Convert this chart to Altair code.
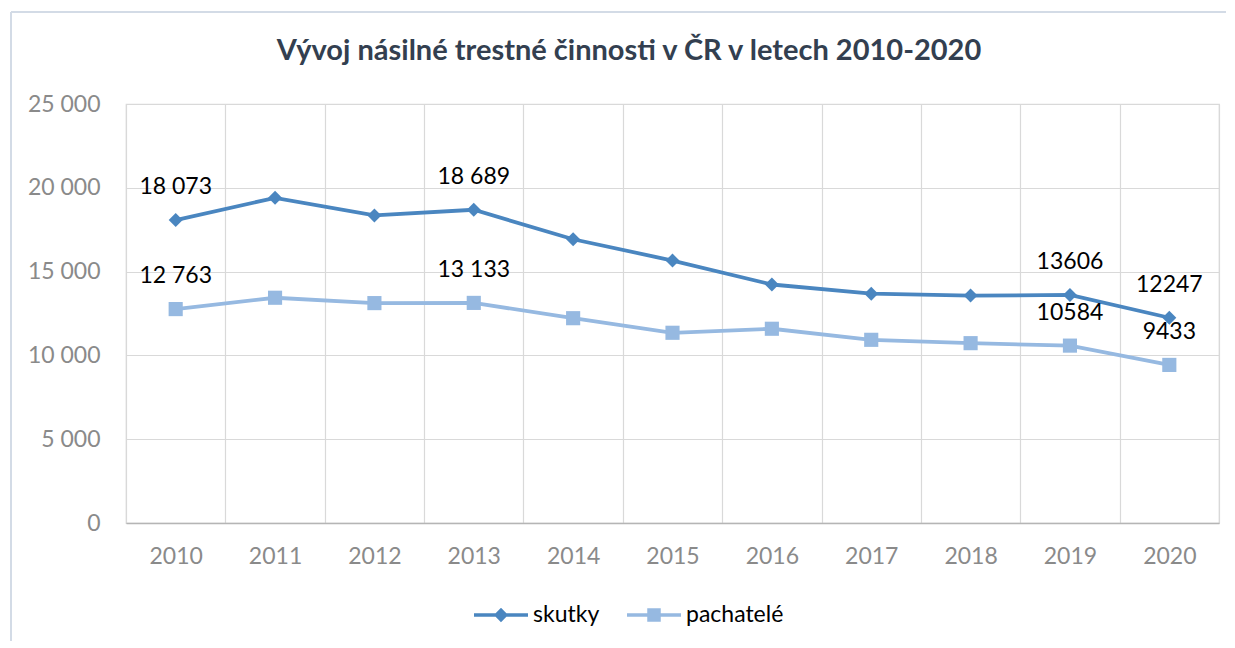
import altair as alt
import pandas as pd

# ---- data ----
years = [2010, 2011, 2012, 2013, 2014, 2015, 2016, 2017, 2018, 2019, 2020]
skutky = [18073, 19400, 18350, 18689, 16930, 15660, 14230, 13680, 13570, 13606, 12247]
pachatele = [12763, 13440, 13120, 13133, 12220, 11350, 11590, 10930, 10730, 10584, 9433]

label_years = [2010, 2013, 2019, 2020]
label_text_skutky = ["18 073", "18 689", "13606", "12247"]
label_text_pachatele = ["12 763", "13 133", "10584", "9433"]

series_names = ["skutky", "pachatelé"]
series_colors = ["#4a86c0", "#96b9e1"]
y_ticks = [0, 5000, 10000, 15000, 20000, 25000]
title_text = "Vývoj násilné trestné činnosti v ČR v letech 2010-2020"

FONT = "Lato"
AXIS_GRAY = "#8a8a8a"
GRID = "#d9d9d9"

# ---- build table ----
rows = []
for name, vals, labs in [
    (series_names[0], skutky, dict(zip(label_years, label_text_skutky))),
    (series_names[1], pachatele, dict(zip(label_years, label_text_pachatele))),
]:
    for yr, v in zip(years, vals):
        rows.append({"year": yr, "series": name, "value": v, "label": labs.get(yr, "")})
df = pd.DataFrame(rows)
legend_df = pd.DataFrame({"legend_series": series_names})
one = pd.DataFrame({"a": [0]})

color_scale = alt.Scale(domain=series_names, range=series_colors)

x_enc = alt.X(
    "year:O",
    bandPosition=0.5,
    scale=alt.Scale(type="band", paddingInner=0, paddingOuter=0),
    axis=alt.Axis(
        title=None,
        labelAngle=0,
        labelFont=FONT,
        labelFontSize=23,
        labelColor=AXIS_GRAY,
        labelPadding=22,
        ticks=False,
        tickBand="extent",
        grid=True,
        gridColor=GRID,
        gridWidth=1.2,
        domainColor="#b5b5b5",
        domainWidth=1.5,
    ),
)
y_enc = alt.Y(
    "value:Q",
    scale=alt.Scale(domain=[0, 25000], nice=False),
    axis=alt.Axis(
        title=None,
        values=y_ticks,
        labelExpr="replace(format(datum.value, ','), ',', ' ')",
        labelFont=FONT,
        labelFontSize=23,
        labelColor=AXIS_GRAY,
        labelPadding=26,
        ticks=False,
        tickSize=0,
        domain=False,
        gridColor=GRID,
        gridWidth=1.2,
    ),
)

base = alt.Chart(df)

lines = base.mark_line(strokeWidth=3.8).encode(
    x=x_enc, y=y_enc, color=alt.Color("series:N", scale=color_scale, legend=None)
)

pts_sk = base.transform_filter(alt.datum.series == series_names[0]).mark_point(
    shape="diamond", filled=True, size=195, opacity=1
).encode(x=x_enc, y=y_enc, color=alt.Color("series:N", scale=color_scale, legend=None))

pts_pa = base.transform_filter(alt.datum.series == series_names[1]).mark_point(
    shape="square", filled=True, size=200, opacity=1
).encode(x=x_enc, y=y_enc, color=alt.Color("series:N", scale=color_scale, legend=None))

labels = base.transform_filter(alt.datum.label != "").mark_text(
    dy=-33, fontSize=23, font=FONT, color="#000000", baseline="middle", align="center"
).encode(x=x_enc, y=y_enc, text="label:N")

diamond_path = "M-1,-0.065L-0.2,-0.065L0,-0.265L0.2,-0.065L1,-0.065L1,0.065L0.2,0.065L0,0.265L-0.2,0.065L-1,0.065Z"
square_path = "M-1,-0.065L-0.25,-0.065L-0.25,-0.25L0.25,-0.25L0.25,-0.065L1,-0.065L1,0.065L0.25,0.065L0.25,0.25L-0.25,0.25L-0.25,0.065L-1,0.065Z"

legend_props = dict(
    title=None,
    orient="none",
    legendX=348,
    legendY=484,
    direction="horizontal",
    symbolSize=2916,
    symbolStrokeWidth=0,
    symbolOpacity=1,
    labelFont=FONT,
    labelFontSize=23,
    labelColor="#000000",
    labelOffset=5,
    columnPadding=27,
)

legend_layer = alt.Chart(legend_df).mark_point(filled=True, opacity=0).encode(
    color=alt.Color(
        "legend_series:N",
        scale=alt.Scale(domain=series_names, range=series_colors),
        legend=alt.Legend(**legend_props),
    ),
    shape=alt.Shape(
        "legend_series:N",
        scale=alt.Scale(domain=series_names, range=[diamond_path, square_path]),
        legend=alt.Legend(**legend_props),
    ),
)

title_mark = alt.Chart(one).mark_text(
    text=title_text, font=FONT, fontSize=29, fontWeight="bold", color="#333f50",
    align="center", baseline="middle"
).encode(x=alt.value(503), y=alt.value(-53))

frame_left = alt.Chart(one).mark_rule(color="#d3dbe6", strokeWidth=2).encode(
    x=alt.value(-115), y=alt.value(-92), y2=alt.value(537)
)
frame_top = alt.Chart(one).mark_rule(color="#d3dbe6", strokeWidth=2).encode(
    x=alt.value(-115), x2=alt.value(1100), y=alt.value(-92)
)

chart = (
    alt.layer(frame_left, frame_top, title_mark, lines, pts_sk, pts_pa, labels, legend_layer)
    .resolve_scale(color="independent", shape="independent")
    .properties(width=1093, height=419, padding={"left": 2, "top": 3, "right": 0, "bottom": 0})
    .configure_view(stroke=GRID, strokeWidth=1.2)
)

chart.save("out.html", embed_options={"renderer": "svg", "actions": False})
